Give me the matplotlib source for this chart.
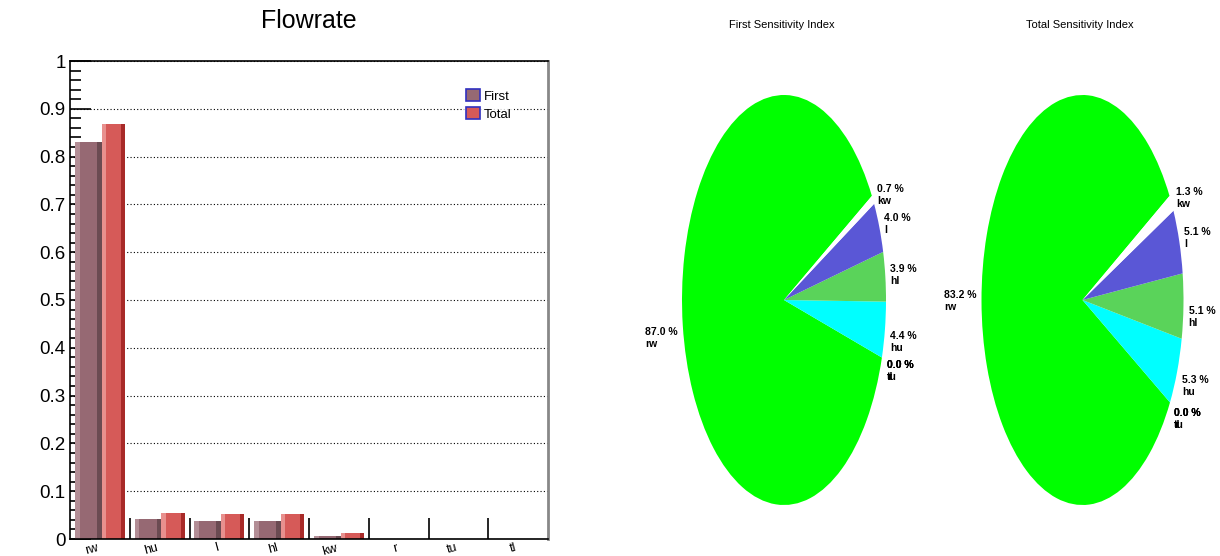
import numpy as np
import matplotlib
matplotlib.use('Agg')
import matplotlib.pyplot as plt
from matplotlib.patches import Patch

plt.rcParams['font.family'] = ['Liberation Sans', 'DejaVu Sans']

# Datos del grafico de barras
params = ['rw', 'hu', 'l', 'hl', 'kw', 'r', 'tu', 'tl']
first_idx = [0.830, 0.042, 0.038, 0.037, 0.0065, 0.0, 0.0, 0.0]
total_idx = [0.868, 0.055, 0.053, 0.053, 0.0135, 0.0, 0.0, 0.0]

pie_names = ['rw', 'r', 'tu', 'tl', 'hu', 'hl', 'l', 'kw']
pie_first = [87.0, 0.0, 0.0, 0.0, 4.4, 3.9, 4.0, 0.7]
pie_total = [83.2, 0.0, 0.0, 0.0, 5.3, 5.1, 5.1, 1.3]
pie_colors = ['#00ff00', '#ff0000', '#ff00ff', '#ffff00', '#00ffff', '#5ad35a', '#5a57d6', '#ffffff']

W, H = 1220, 556
fig = plt.figure(figsize=(W / 100, H / 100), dpi=100)

# ---------------- barras ----------------
ax = fig.add_axes([70 / W, 1 - 539 / H, 478 / W, 478 / H])
x = np.arange(len(params))

c_first, c_first_l, c_first_d = '#966973', '#b38e96', '#6b4b52'
c_total, c_total_l, c_total_d = '#d65a58', '#e8908e', '#a82a28'


def bar3d(x0, width, heights, c, cl, cd):
    s = width * 0.18
    ax.bar(x + x0, heights, width=s, align='edge', color=cl, lw=0)
    ax.bar(x + x0 + s, heights, width=width - 2 * s, align='edge', color=c, lw=0)
    ax.bar(x + x0 + width - s, heights, width=s, align='edge', color=cd, lw=0)


h_first = np.maximum(first_idx, 0.0007)
h_total = np.maximum(total_idx, 0.0007)
bar3d(0.08, 0.45, h_first, c_first, c_first_l, c_first_d)
bar3d(0.53, 0.39, h_total, c_total, c_total_l, c_total_d)

ax.set_xlim(0, len(params))
ax.set_ylim(0, 1)
ax.set_yticks(np.arange(0, 1.01, 0.1))
ax.set_yticklabels(['0', '0.1', '0.2', '0.3', '0.4', '0.5', '0.6', '0.7', '0.8', '0.9', '1'])
ax.set_yticks(np.arange(0, 1.001, 0.02), minor=True)
ax.tick_params(axis='y', which='major', direction='in', length=15, width=1.2, labelsize=13.5, pad=3)
ax.tick_params(axis='y', which='minor', direction='in', length=8, width=1.2)
ax.set_xticks(np.arange(1, len(params)))
ax.set_xticklabels([])
ax.tick_params(axis='x', which='major', direction='in', length=15, width=1.2)
for i, p in enumerate(params):
    ax.text(i + 0.45, -0.006, p, rotation=15, ha='right', va='top', fontsize=9,
            rotation_mode='anchor', transform=ax.transData)
ax.grid(axis='y', which='major', linestyle=(0, (1, 2)), color='black', lw=0.8)
ax.set_axisbelow(True)
for s in ['left', 'bottom', 'top']:
    ax.spines[s].set_linewidth(1.2)
ax.spines['right'].set_color('#888888')
ax.spines['right'].set_linewidth(2)

handles = [Patch(facecolor=c_first, edgecolor='#3030c0', lw=1.2),
           Patch(facecolor=c_total, edgecolor='#3030c0', lw=1.2)]
leg = ax.legend(handles, ['First', 'Total'], loc='upper left', bbox_to_anchor=(0.81, 0.96),
                frameon=True, fontsize=9.5, handlelength=1.0, handleheight=1.0,
                handletextpad=0.3, borderpad=0.2, labelspacing=0.35)
leg.get_frame().set_facecolor('white')
leg.get_frame().set_edgecolor('none')

fig.text(309 / W, 1 - 21 / H, 'Flowrate', ha='center', va='center', fontsize=18)


# ---------------- pasteles ----------------
def draw_pie(cx, rx, vals, title, tx):
    lim = 1.2
    pa = fig.add_axes([(cx - lim * rx) / W, 1 - (300 + lim * 205) / H,
                       2 * lim * rx / W, 2 * lim * 205 / H])
    wedges, _ = pa.pie(vals, colors=pie_colors, startangle=30.5, counterclock=True,
                       wedgeprops=dict(lw=0))
    pa.set_aspect('auto')
    pa.set_xlim(-lim, lim)
    pa.set_ylim(-lim, lim)
    pa.axis('off')
    for w, name, v in zip(wedges, pie_names, vals):
        mid = np.deg2rad((w.theta1 + w.theta2) / 2)
        c, s = np.cos(mid), np.sin(mid)
        lx, ly = 1.05 * c, 1.05 * s
        ha = 'left' if c >= 0 else 'right'
        va = 'top' if s < -0.03 else 'center'
        pa.text(lx, ly, '%.1f %%\n%s' % (v, name), ha=ha, va=va, multialignment='left',
                fontsize=7.5, fontweight='bold', linespacing=1.25)
    fig.text(tx / W, 1 - 25 / H, title, ha='center', va='center', fontsize=8)


draw_pie(784, 102, pie_first, 'First Sensitivity Index', 782)
draw_pie(1082.5, 101, pie_total, 'Total Sensitivity Index', 1080)

fig.savefig('out.png', dpi=100)
